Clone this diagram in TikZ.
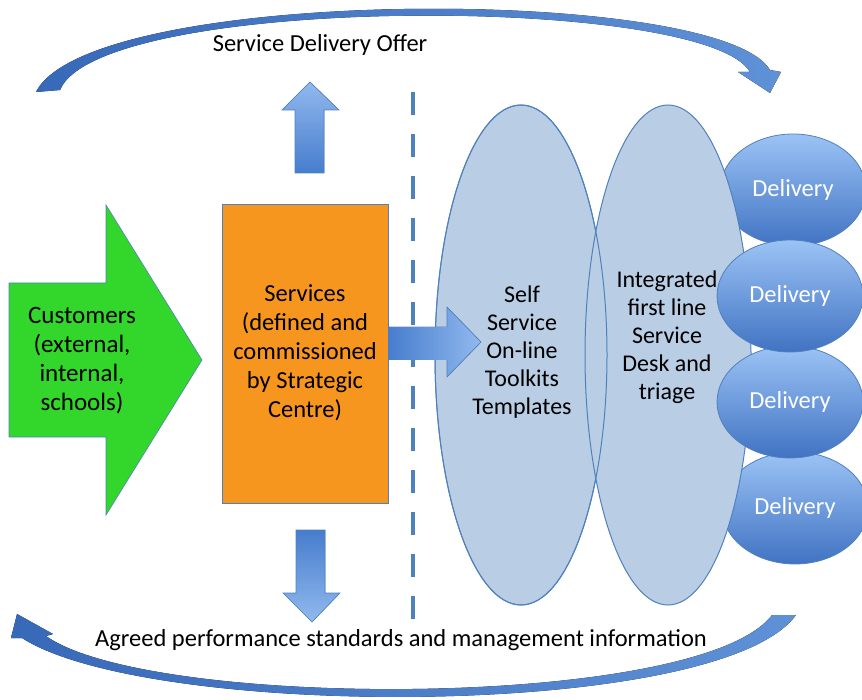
\documentclass[tikz,border=0pt]{standalone}
\usepackage{fontspec}
\setmainfont{Carlito}
\usetikzlibrary{shapes.geometric}

\definecolor{edgeblue}{RGB}{79,129,189}
\definecolor{arcdark}{RGB}{55,105,185}
\definecolor{arclight}{RGB}{95,145,215}
\definecolor{panelfill}{RGB}{185,205,229}
\definecolor{custgreen}{RGB}{51,214,42}
\definecolor{servorange}{RGB}{247,150,30}
\definecolor{blocklight}{RGB}{145,185,238}
\definecolor{blockdark}{RGB}{70,125,205}
\definecolor{deltop}{RGB}{155,195,245}
\definecolor{delbottom}{RGB}{65,115,195}

\tikzset{
  txt/.style={inner sep=0pt, align=center, font=\fontsize{24.5}{29}\selectfont},
  paneltxt/.style={inner sep=0pt, align=center, font=\fontsize{24}{28}\selectfont},
  deltxt/.style={inner sep=0pt, text=white, font=\fontsize{24.5}{28}\selectfont},
  panel/.style={ellipse, draw=edgeblue, line width=1pt, fill=panelfill, inner sep=0pt},
  delivery/.style={ellipse, draw=edgeblue, line width=0.8pt, top color=deltop, bottom color=delbottom, inner sep=0pt,
                   minimum width=146pt, minimum height=112pt},
  blockarrow/.style={draw=edgeblue, line width=0.6pt},
  arc/.style={left color=arcdark, right color=arclight},
}

\begin{document}
\begin{tikzpicture}[x=1pt,y=-1pt]
\useasboundingbox (0,0) rectangle (862,700);

% upper return arc with its head
\fill[arc] (36,92) .. controls (90,-15) and (720,-15) .. (770,70)
   -- (781,72) -- (770,93) -- (738,72) -- (750,72)
   .. controls (705,-6) and (100,-6) .. (60,90) -- cycle;
% lower return arc with its head
\fill[arc] (796,615) .. controls (720,720) and (150,720) .. (22,638)
   -- (11,638) -- (17,614) -- (53,634) -- (46,636)
   .. controls (150,710) and (700,710) .. (772,615) -- cycle;

% dashed divider
\coordinate (divtop) at (413,92);
\coordinate (divbot) at (413,622);
\draw[edgeblue, line width=4.5pt, dash pattern=on 23pt off 19pt] (divtop) -- (divbot);

% customers block arrow
\filldraw[fill=custgreen, blockarrow] (9,283) -- (106,283) -- (106,205) -- (202,360)
   -- (106,515) -- (106,437) -- (9,437) -- cycle;
\node[txt, font=\fontsize{25}{29}\selectfont] (customers) at (82,361) {Customers\\(external,\\internal,\\schools)};

% services box
\node[draw=edgeblue, line width=0.8pt, fill=servorange, minimum width=166pt, minimum height=299pt,
      inner sep=0pt] (servbox) at (305,353.5) {};
\node[txt] (services) at (305,353) {Services\\(defined and\\commissioned\\by Strategic\\Centre)};

% block arrows out of the services box
\filldraw[blockarrow, top color=blocklight, bottom color=blockdark]
   (295,173) -- (295,110) -- (282,110) -- (310,82) -- (339,110) -- (324,110) -- (324,173) -- cycle;
\filldraw[blockarrow, top color=blockdark, bottom color=blocklight]
   (296,530) -- (325,530) -- (325,593) -- (340,593) -- (312,622) -- (283,593) -- (296,593) -- cycle;

% delivery teams sitting behind the triage panel
\node[delivery] (d1) at (793,190) {};
\node[delivery] (d4) at (795,508) {};

% self service and triage panels
\node[panel, minimum width=172pt, minimum height=500pt] (selfpanel) at (521,355) {};
\node[panel, minimum width=166pt, minimum height=500pt] (triagepanel) at (668,355) {};
\draw[edgeblue, line width=1pt] (selfpanel.center) ellipse [x radius=86pt, y radius=250pt];

% delivery teams in front of the triage panel
\node[delivery] (d3) at (790,402) {};
\node[delivery] (d2) at (790,296) {};

% arrow from services into self service
\fill[left color=blockdark, right color=blocklight]
   (servbox.east |- 0,327) -- (447,327) -- (447,307) -- (481,342) -- (447,377) -- (447,360)
   -- (servbox.east |- 0,360) -- cycle;
\draw[blockarrow] (447,327) -- (447,307) -- (481,342) -- (447,377) -- (447,360);

\node[paneltxt] (selftxt) at (522,352) {Self\\Service\\On-line\\Toolkits\\Templates};
\node[paneltxt] (triagetxt) at (667,337) {Integrated\\first line\\Service\\Desk and\\triage};

\node[deltxt] at (d1.center) {Delivery};
\node[deltxt] at (d2.center) {Delivery};
\node[deltxt] at (d3.center) {Delivery};
\node[deltxt] at (d4.center) {Delivery};

% captions
\node[inner sep=0pt, font=\fontsize{24.5}{28}\selectfont] (offer) at (320,45) {Service Delivery Offer};
\node[inner sep=0pt, font=\fontsize{24.5}{28}\selectfont] (agreed) at (401,640)
   {Agreed performance standards and management information};
\end{tikzpicture}
\end{document}
